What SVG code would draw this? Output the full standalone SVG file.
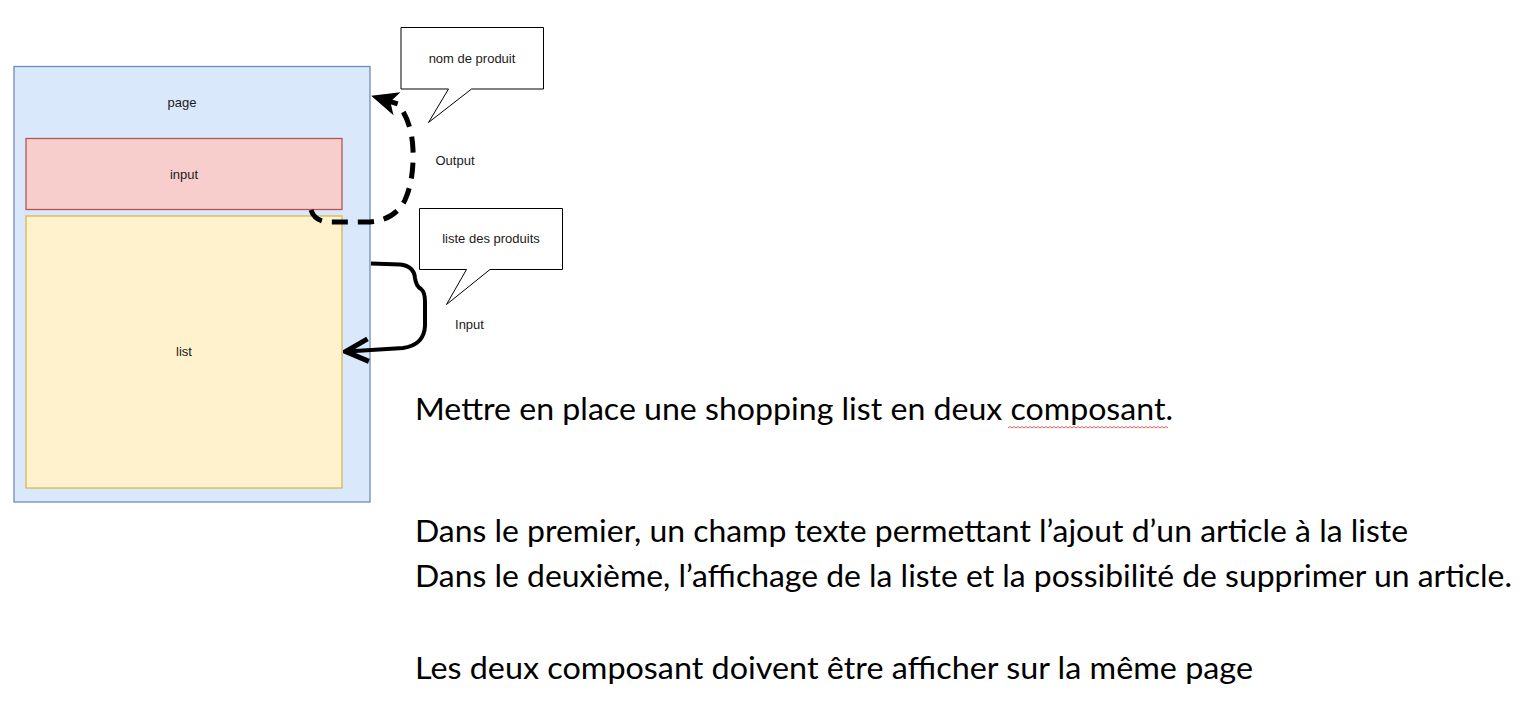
<svg xmlns="http://www.w3.org/2000/svg" width="1523" height="701" viewBox="0 0 1523 701">
<style>
.lbl{font-family:"Liberation Sans",Arial,sans-serif;font-size:13px;fill:#1a1a1a;text-anchor:middle}
.main{font-family:Lato,"Open Sans",sans-serif;font-size:31px;fill:#000}
.callout{fill:#fff;stroke:#000;stroke-width:1}
</style>
<defs>
<marker id="notch" markerUnits="userSpaceOnUse" markerWidth="32" markerHeight="32" refX="23" refY="13" orient="auto" viewBox="0 0 32 26">
<path d="M27,13 L0,1 L7,13 L0,25 Z" fill="#000"/>
</marker>
<marker id="open" markerUnits="userSpaceOnUse" markerWidth="30" markerHeight="30" refX="21" refY="10" orient="auto" viewBox="0 0 24 20">
<path d="M4,1 L22,10 L4,19" fill="none" stroke="#000" stroke-width="4" stroke-linejoin="miter"/>
</marker>
</defs>
<rect width="1523" height="701" fill="#fff"/>
<g id="page">
<rect x="14" y="66.5" width="356" height="435.5" fill="#dae8fc" stroke="#6c8ebf" stroke-width="1.3"/>
<text class="lbl" x="182" y="107">page</text>
</g>
<g id="input">
<rect x="26" y="138.5" width="316" height="71" fill="#f8cecc" stroke="#b85450" stroke-width="1.3"/>
<text class="lbl" x="184" y="179">input</text>
</g>
<g id="list">
<rect x="26" y="216" width="316" height="272" fill="#fff2cc" stroke="#d6b656" stroke-width="1.3"/>
<text class="lbl" x="184" y="356">list</text>
</g>
<g id="callout-nom">
<path class="callout" d="M401,27.5 H543.5 V89 H471.5 L428.5,122.5 L448.5,89 H401 Z"/>
<text class="lbl" x="472" y="63">nom de produit</text>
</g>
<g id="callout-liste">
<path class="callout" d="M419.5,208.5 H562.5 V269.5 H490 L446.5,304.5 L466.5,269.5 H419.5 Z"/>
<text class="lbl" x="491" y="243">liste des produits</text>
</g>
<g id="connectors">
<path d="M311,210 Q315,222 330,222 L370,222 Q395,220 405,200 Q414,180 413,150 Q412,122 398,104 L375,97" fill="none" stroke="#000" stroke-width="5" stroke-dasharray="16,10" marker-end="url(#notch)"/>
<path d="M371,263.5 L400,264.5 Q414,266 415,278 Q416,286 421,289 Q425,292 425,302 L425,326 Q424,345 403,348 L347,351.5" fill="none" stroke="#000" stroke-width="4" marker-end="url(#open)"/>
<text class="lbl" x="455" y="165">Output</text>
<text class="lbl" x="469.5" y="329">Input</text>
</g>
<g id="text">
<text class="main" x="415" y="420" textLength="758" lengthAdjust="spacingAndGlyphs">Mettre en place une shopping list en deux composant.</text>
<path d="M1008,428 l2,-1.5 l2,1.5 l2,-1.5 l2,1.5 l2,-1.5 l2,1.5 l2,-1.5 l2,1.5 l2,-1.5 l2,1.5 l2,-1.5 l2,1.5 l2,-1.5 l2,1.5 l2,-1.5 l2,1.5 l2,-1.5 l2,1.5 l2,-1.5 l2,1.5 l2,-1.5 l2,1.5 l2,-1.5 l2,1.5 l2,-1.5 l2,1.5 l2,-1.5 l2,1.5 l2,-1.5 l2,1.5 l2,-1.5 l2,1.5 l2,-1.5 l2,1.5 l2,-1.5 l2,1.5 l2,-1.5 l2,1.5 l2,-1.5 l2,1.5 l2,-1.5 l2,1.5 l2,-1.5 l2,1.5 l2,-1.5 l2,1.5 l2,-1.5 l2,1.5 l2,-1.5 l2,1.5 l2,-1.5 l2,1.5 l2,-1.5 l2,1.5 l2,-1.5 l2,1.5 l2,-1.5 l2,1.5 l2,-1.5 l2,1.5 l2,-1.5 l2,1.5 l2,-1.5 l2,1.5 l2,-1.5 l2,1.5 l2,-1.5 l2,1.5 l2,-1.5 l2,1.5 l2,-1.5 l2,1.5 l2,-1.5 l2,1.5 l2,-1.5 l2,1.5 l2,-1.5 l2,1.5 l2,-1.5 l2,1.5" fill="none" stroke="#e03030" stroke-width="0.8"/>
<text class="main" x="415" y="542" textLength="993" lengthAdjust="spacingAndGlyphs">Dans le premier, un champ texte permettant l’ajout d’un article à la liste</text>
<text class="main" x="415" y="587" textLength="1097" lengthAdjust="spacingAndGlyphs">Dans le deuxième, l’affichage de la liste et la possibilité de supprimer un article.</text>
<text class="main" x="415" y="679" textLength="838" lengthAdjust="spacingAndGlyphs">Les deux composant doivent être afficher sur la même page</text>
</g>
</svg>
